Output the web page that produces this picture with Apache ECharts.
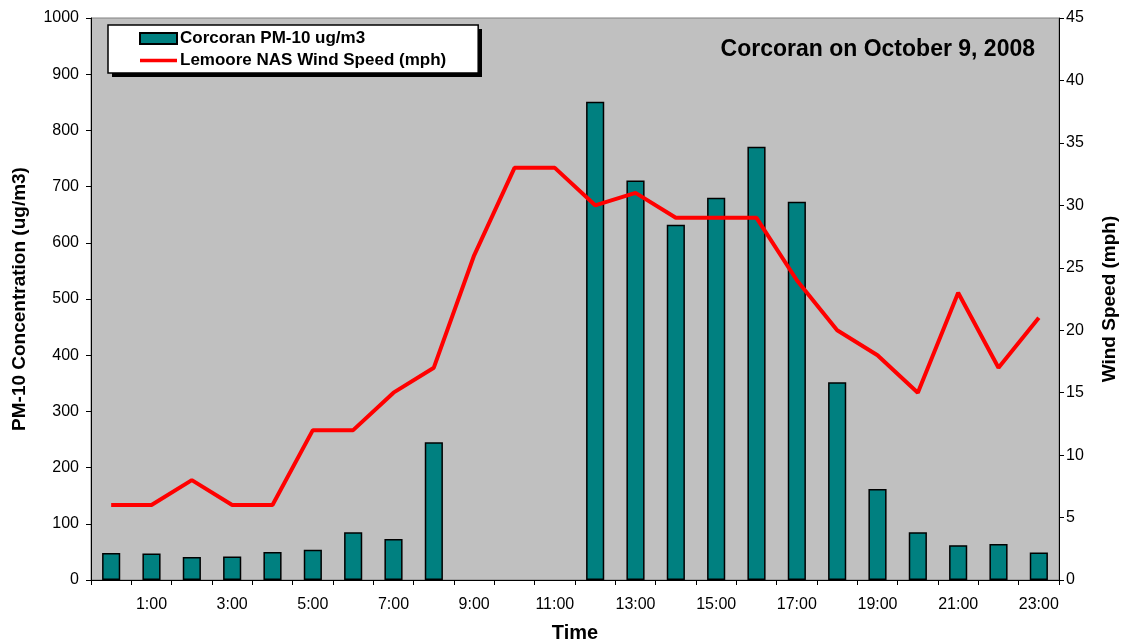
<!DOCTYPE html>
<html>
<head>
<meta charset="utf-8">
<script src="https://cdn.jsdelivr.net/npm/echarts@6/dist/echarts.min.js"></script>
<style>
html,body{margin:0;padding:0;background:#fff;}
#c{width:1123px;height:644px;}
</style>
</head>
<body>
<div id="c"></div>
<script>
const hours = ['0:00','1:00','2:00','3:00','4:00','5:00','6:00','7:00','8:00','9:00','10:00','11:00',
  '12:00','13:00','14:00','15:00','16:00','17:00','18:00','19:00','20:00','21:00','22:00','23:00'];
const pm10 = [48, 47, 41, 42, 50, 54, 85, 73, 245, null, null, null,
  851, 711, 632, 680, 771, 673, 352, 162, 85, 62, 64, 49];
const windSpeed = [6, 6, 8, 6, 6, 12, 12, 15, 17, 26, 33, 33,
  30, 31, 29, 29, 29, 24, 20, 18, 15, 23, 17, 21];
const pmTicks = {min: 0, max: 1000, interval: 100};
const windTicks = {min: 0, max: 45, interval: 5};
const titleText = 'Corcoran on October 9, 2008';
const pmName = 'Corcoran PM-10 ug/m3';
const windName = 'Lemoore NAS Wind Speed (mph)';

const FONT = '"Liberation Sans", Arial, sans-serif';
const chart = echarts.init(document.getElementById('c'));
chart.setOption({
  backgroundColor: '#ffffff',
  animation: false,
  textStyle: {fontFamily: FONT},
  title: {
    text: titleText, right: 83, top: 33,
    textStyle: {fontFamily: FONT, fontSize: 23, fontWeight: 'bold', color: '#000'}
  },
  graphic: [
    {type: 'rect', left: 112, top: 29, z: 1, silent: true,
     shape: {width: 370, height: 48}, style: {fill: '#000'}}
  ],
  legend: {
    left: 108, top: 25, orient: 'vertical', z: 5,
    padding: [5, 32, 4, 31], itemGap: 5,
    itemWidth: 37, itemHeight: 11,
    backgroundColor: '#fff', borderColor: '#000', borderWidth: 1.5,
    textStyle: {fontFamily: FONT, fontSize: 17, fontWeight: 'bold', color: '#000', padding: [0,0,0,-2]},
    data: [
      {name: pmName, icon: 'rect'},
      {name: windName, icon: 'path://M0,0 L40,0 L40,4 L0,4 Z'}
    ]
  },
  grid: {
    left: 91, right: 64, top: 18, bottom: 64, outerBoundsMode: 'none', containLabel: false,
    show: true, backgroundColor: '#c0c0c0', borderColor: '#808080', borderWidth: 1
  },
  xAxis: {
    type: 'category', data: hours, boundaryGap: true,
    name: 'Time', nameLocation: 'middle', nameGap: 43,
    nameTextStyle: {fontFamily: FONT, fontSize: 20, fontWeight: 'bold', color: '#000'},
    axisLine: {lineStyle: {color: '#000', width: 1}},
    axisTick: {show: true, interval: 0, length: 5, lineStyle: {color: '#000'}},
    axisLabel: {
      interval: function (i) { return i % 2 === 1; },
      fontFamily: FONT, fontSize: 16, color: '#000', margin: 17
    },
    splitLine: {show: false}
  },
  yAxis: [
    {
      type: 'value', position: 'left',
      min: pmTicks.min, max: pmTicks.max, interval: pmTicks.interval,
      name: 'PM-10 Concentration (ug/m3)', nameLocation: 'middle', nameRotate: 90, nameGap: 62,
      nameTextStyle: {fontFamily: FONT, fontSize: 19, fontWeight: 'bold', color: '#000'},
      axisLine: {show: true, lineStyle: {color: '#000', width: 1}},
      axisTick: {show: true, length: 5, lineStyle: {color: '#000'}},
      axisLabel: {fontFamily: FONT, fontSize: 16, color: '#000', margin: 12,
        formatter: function (v) { return String(v); }},
      splitLine: {show: false}
    },
    {
      type: 'value', position: 'right',
      min: windTicks.min, max: windTicks.max, interval: windTicks.interval,
      name: 'Wind Speed (mph)', nameLocation: 'middle', nameRotate: 90, nameGap: 41,
      nameTextStyle: {fontFamily: FONT, fontSize: 19, fontWeight: 'bold', color: '#000'},
      axisLine: {show: true, lineStyle: {color: '#000', width: 1}},
      axisTick: {show: true, length: 5, lineStyle: {color: '#000'}},
      axisLabel: {fontFamily: FONT, fontSize: 16, color: '#000', margin: 7},
      splitLine: {show: false}
    }
  ],
  series: [
    {
      name: pmName, type: 'bar', yAxisIndex: 0, data: pm10,
      barWidth: '45%',
      itemStyle: {color: '#008080', borderColor: '#000', borderWidth: 1.5}
    },
    {
      name: windName, type: 'line', yAxisIndex: 1, data: windSpeed,
      symbol: 'none', lineStyle: {color: '#ff0000', width: 4},
      itemStyle: {color: '#ff0000'}
    }
  ]
});
</script>
</body>
</html>
